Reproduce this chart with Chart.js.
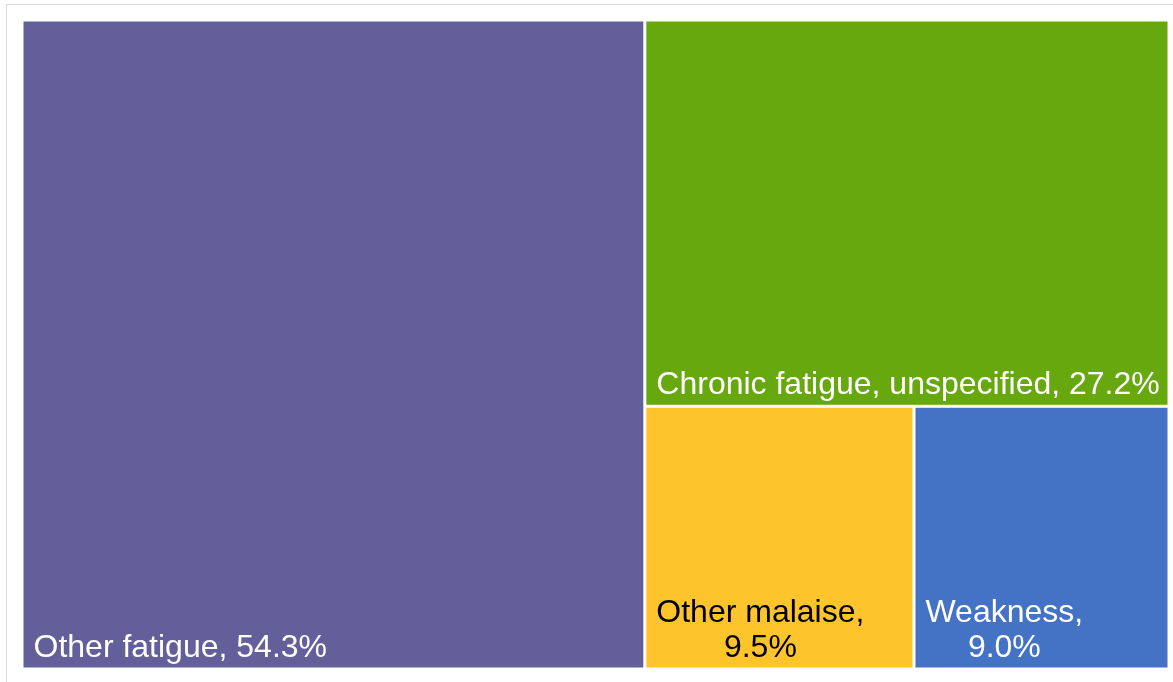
<!DOCTYPE html>
<html>
<head>
<meta charset="utf-8">
<script src="https://cdn.jsdelivr.net/npm/chart.js@4/dist/chart.umd.min.js"></script>
<style>
    html, body { margin: 0; padding: 0; background: #fff; overflow: hidden; }
    #frame {
        position: absolute; left: 6px; top: 4px; width: 1200px; height: 700px;
        border-left: 1px solid #dcdcdc; border-top: 1px solid #dcdcdc;
    }
    #wrap { position: absolute; left: 0; top: 0; width: 1173px; height: 682px; }
</style>
</head>
<body>
<div id="frame"></div>
<div id="wrap"><canvas id="treemap-chart"></canvas></div>
<script>
// Dados do treemap
const categories = ['Other fatigue', 'Chronic fatigue, unspecified', 'Other malaise', 'Weakness'];
const shares = [54.3, 27.2, 9.5, 9.0];
const cellColors = ['#635f9b', '#66a80e', '#fdc42c', '#4472c4'];
const labelColors = ['#ffffff', '#ffffff', '#000000', '#ffffff'];

/**
 * Layout squarified (em unidades proporcionais a W x H)
 */
function squarify(values, W, H) {
    const total = values.reduce((a, b) => a + b, 0);
    const scale = (W * H) / total;
    const areas = values.map(v => v * scale);
    const out = [];
    let rect = { x: 0, y: 0, w: W, h: H };
    let i = 0;

    function worst(row, side) {
        const s = row.reduce((a, b) => a + b, 0);
        const mx = Math.max(...row), mn = Math.min(...row);
        return Math.max((side * side * mx) / (s * s), (s * s) / (side * side * mn));
    }

    while (i < areas.length) {
        const side = Math.min(rect.w, rect.h);
        let row = [areas[i]];
        let j = i + 1;
        while (j < areas.length && worst(row.concat(areas[j]), side) <= worst(row, side)) {
            row.push(areas[j]);
            j++;
        }
        const s = row.reduce((a, b) => a + b, 0);
        if (rect.w >= rect.h) {
            // coluna à esquerda
            const cw = s / rect.h;
            let y = rect.y;
            row.forEach(a => {
                const ch = a / cw;
                out.push({ x: rect.x, y: y, w: cw, h: ch });
                y += ch;
            });
            rect = { x: rect.x + cw, y: rect.y, w: rect.w - cw, h: rect.h };
        } else {
            // linha no topo
            const rh = s / rect.w;
            let x = rect.x;
            row.forEach(a => {
                const rw = a / rh;
                out.push({ x: x, y: rect.y, w: rw, h: rh });
                x += rw;
            });
            rect = { x: rect.x, y: rect.y + rh, w: rect.w, h: rect.h - rh };
        }
        i = j;
    }
    return out;
}

const treemapPlugin = {
    id: 'treemapCells',
    beforeDatasetsDraw(chart) {
        const { ctx, chartArea, scales } = chart;
        const W = chartArea.right - chartArea.left;
        const H = chartArea.bottom - chartArea.top;
        const cells = squarify(shares, W, H);
        const gap = 1.5;
        const pad = 10;
        const lineH = 35;

        ctx.save();
        ctx.font = '32px "Liberation Sans", Arial, sans-serif';
        cells.forEach((c, k) => {
            // converter para unidades de dados (0..100) e depois pixels pelas escalas
            const x0 = scales.x.getPixelForValue(c.x / W * 100);
            const x1 = scales.x.getPixelForValue((c.x + c.w) / W * 100);
            const y0 = scales.y.getPixelForValue(c.y / H * 100);
            const y1 = scales.y.getPixelForValue((c.y + c.h) / H * 100);
            const left = Math.min(x0, x1) + gap, right = Math.max(x0, x1) - gap;
            const top = Math.min(y0, y1) + gap, bottom = Math.max(y0, y1) - gap;

            ctx.fillStyle = cellColors[k];
            ctx.fillRect(left, top, right - left, bottom - top);

            // rótulo
            const value = shares[k].toFixed(1) + '%';
            const full = categories[k] + ', ' + value;
            let lines = [full];
            if (ctx.measureText(full).width + pad + 4 > right - left) {
                lines = [categories[k] + ',', value];
            }
            const blockW = Math.max(...lines.map(l => ctx.measureText(l).width));
            const cx = left + pad + blockW / 2;
            ctx.fillStyle = labelColors[k];
            ctx.textAlign = 'center';
            ctx.textBaseline = 'alphabetic';
            lines.forEach((l, n) => {
                const baseline = bottom - 11 - (lines.length - 1 - n) * lineH;
                ctx.fillText(l, cx, baseline);
            });
        });
        ctx.restore();
    }
};

function initializeTreemapChart() {
    const el = document.getElementById('treemap-chart');
    return new Chart(el, {
        type: 'scatter',
        data: { datasets: [{ data: [] }] },
        options: {
            responsive: true,
            maintainAspectRatio: false,
            animation: false,
            layout: { padding: { left: 22, right: 4, top: 20, bottom: 13 } },
            plugins: { legend: { display: false }, tooltip: { enabled: false } },
            scales: {
                x: { type: 'linear', min: 0, max: 100, display: false },
                y: { type: 'linear', min: 0, max: 100, reverse: true, display: false }
            }
        },
        plugins: [treemapPlugin]
    });
}

initializeTreemapChart();
</script>
</body>
</html>
